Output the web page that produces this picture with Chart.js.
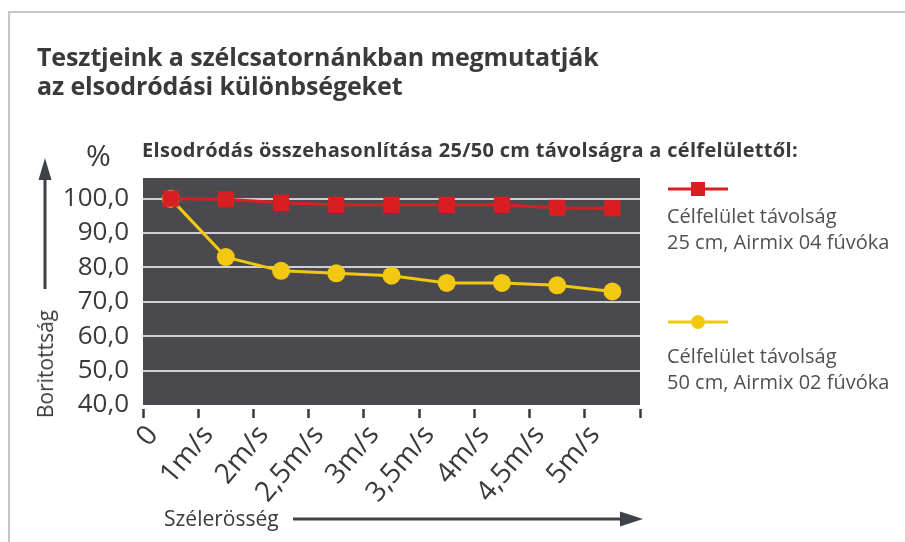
<!DOCTYPE html>
<html><head><meta charset="utf-8">
<script src="https://cdn.jsdelivr.net/npm/chart.js@4.4.1/dist/chart.umd.min.js"></script>
<style>
html,body{margin:0;padding:0;background:#fff;}
#wrap{position:relative;width:905px;height:542px;overflow:hidden;font-family:"Open Sans",sans-serif;color:#3a3a3c;}
#frame{position:absolute;left:8px;top:11px;width:910px;height:540px;border-top:2px solid #c6c6c6;border-left:2px solid #c6c6c6;}
canvas{position:absolute;left:0;top:0;}
.t{position:absolute;white-space:nowrap;}
.leg{position:absolute;left:667px;font-size:20px;line-height:26px;color:#505052;}
</style></head><body>
<div id="wrap">
<div id="frame"></div>
<canvas id="c" width="905" height="542"></canvas>
<div class="t" style="left:37px;top:42px;font-weight:700;font-size:25px;line-height:29px;letter-spacing:-0.12px;">Tesztjeink a szélcsatornánkban megmutatják<br>az elsodródási különbségeket</div>
<div class="t" style="left:142px;top:137px;font-weight:700;font-size:20px;line-height:26px;letter-spacing:0.3px;">Elsodródás összehasonlítása 25/50 cm távolságra a célfelülettől:</div>
<div class="t" style="left:86px;top:137px;font-size:30px;line-height:36px;">%</div>
<div class="t" style="left:45px;top:364px;font-size:21px;line-height:24px;transform:translate(-50%,-50%) rotate(-90deg);">Boritottság</div>
<div class="t" style="left:164px;top:504px;font-size:21px;line-height:28px;">Szélerösség</div>
<div class="leg" style="top:203px;">Célfelület távolság<br>25 cm, Airmix 04 fúvóka</div>
<div class="leg" style="top:343px;">Célfelület távolság<br>50 cm, Airmix 02 fúvóka</div>
</div>
<script>
const xLabels = ["0", "1m/s", "2m/s", "2,5m/s", "3m/s", "3,5m/s", "4m/s", "4,5m/s", "5m/s"];
const yTickValues = [40, 50, 60, 70, 80, 90, 100];
const yTickLabels = ["40,0", "50,0", "60,0", "70,0", "80,0", "90,0", "100,0"];
const series25cm = [100, 99.8, 98.8, 98.2, 98.2, 98.2, 98.2, 97.3, 97.2];
const series50cm = [100, 83.0, 79.0, 78.3, 77.6, 75.5, 75.5, 74.8, 73.0];
const seriesNames = ["Célfelület távolság 25 cm, Airmix 04 fúvóka", "Célfelület távolság 50 cm, Airmix 02 fúvóka"];

const RED = '#d91e22', YEL = '#f2c811', DARK = '#3a3a3c';

const decor = {
  id: 'decor',
  beforeDraw(chart) {
    const {ctx, chartArea: a} = chart;
    ctx.save();
    ctx.fillStyle = '#4a4a4e';
    ctx.fillRect(a.left, a.top, a.right - a.left, a.bottom - a.top);
    ctx.restore();
  },
  afterDraw(chart) {
    const ctx = chart.ctx;
    ctx.save();
    // rotated category labels at the x scale's tick positions
    const xs = chart.scales.x;
    ctx.font = '28px "Open Sans", sans-serif';
    ctx.fillStyle = DARK; ctx.textAlign = 'right'; ctx.textBaseline = 'middle';
    xLabels.forEach((lab, i) => {
      const px = xs.getPixelForValue(i);
      ctx.save();
      ctx.translate(px + 10, 430);
      ctx.rotate(-50 * Math.PI / 180);
      ctx.fillText(lab, 0, 0);
      ctx.restore();
    });
    ctx.strokeStyle = '#3e4248'; ctx.fillStyle = '#3e4248';
    // y arrow
    ctx.lineWidth = 3;
    ctx.beginPath(); ctx.moveTo(45, 289); ctx.lineTo(45, 175); ctx.stroke();
    ctx.beginPath(); ctx.moveTo(45, 158); ctx.lineTo(38.5, 180); ctx.lineTo(51.5, 180); ctx.closePath(); ctx.fill();
    // x arrow
    ctx.beginPath(); ctx.moveTo(293, 519); ctx.lineTo(625, 519); ctx.stroke();
    ctx.beginPath(); ctx.moveTo(643, 519); ctx.lineTo(620, 511.5); ctx.lineTo(620, 526.5); ctx.closePath(); ctx.fill();
    // legend markers
    const ds = chart.data.datasets;
    ctx.lineWidth = 3;
    ctx.strokeStyle = ds[0].borderColor;
    ctx.beginPath(); ctx.moveTo(668, 189); ctx.lineTo(728, 189); ctx.stroke();
    ctx.fillStyle = ds[0].pointBackgroundColor;
    ctx.fillRect(691, 182, 14, 14);
    ctx.strokeStyle = ds[1].borderColor;
    ctx.beginPath(); ctx.moveTo(668, 322); ctx.lineTo(728, 322); ctx.stroke();
    ctx.fillStyle = ds[1].pointBackgroundColor;
    ctx.beginPath(); ctx.arc(698, 322, 7, 0, Math.PI * 2); ctx.fill();
    ctx.restore();
  }
};

new Chart(document.getElementById('c'), {
  type: 'line',
  data: {
    datasets: [
      { label: seriesNames[0], data: series25cm.map((v, i) => ({x: i + 0.5, y: v})),
        borderColor: RED, backgroundColor: RED, pointBackgroundColor: RED, pointBorderWidth: 0,
        borderWidth: 3, pointStyle: 'rect', pointRadius: 11.5, pointHoverRadius: 11.5, tension: 0 },
      { label: seriesNames[1], data: series50cm.map((v, i) => ({x: i + 0.5, y: v})),
        borderColor: YEL, backgroundColor: YEL, pointBackgroundColor: YEL, pointBorderWidth: 0,
        borderWidth: 3, pointStyle: 'circle', pointRadius: 9, pointHoverRadius: 9, tension: 0 }
    ]
  },
  options: {
    responsive: false, animation: false, devicePixelRatio: 1,
    layout: { padding: { left: 50, right: 265, top: 178, bottom: 0 } },
    plugins: { legend: { display: false }, tooltip: { enabled: false } },
    scales: {
      x: {
        type: 'linear', min: 0, max: xLabels.length,
        afterBuildTicks: s => { s.ticks = Array.from({length: xLabels.length + 1}, (_, i) => ({value: i})); },
        afterFit: s => { s.height = 137; },
        border: { display: false },
        grid: { drawOnChartArea: false, drawTicks: true, tickLength: 13, tickColor: DARK, tickWidth: 2.5, tickBorderDash: [0, 4, 9, 100] },
        ticks: { display: false, autoSkip: false }
      },
      y: {
        min: 40, max: 106,
        afterBuildTicks: s => { s.ticks = yTickValues.map(v => ({value: v})); },
        afterFit: s => { s.width = 93; },
        border: { display: false },
        grid: { drawTicks: false, lineWidth: 2, color: c => (c.tick && c.tick.value === 40) ? 'rgba(0,0,0,0)' : '#cfcfd1' },
        ticks: { padding: 14, color: DARK, font: { family: '"Open Sans", sans-serif', size: 26 },
          callback: (v) => yTickLabels[yTickValues.indexOf(v)] }
      }
    }
  },
  plugins: [decor]
});
</script>
</body></html>
